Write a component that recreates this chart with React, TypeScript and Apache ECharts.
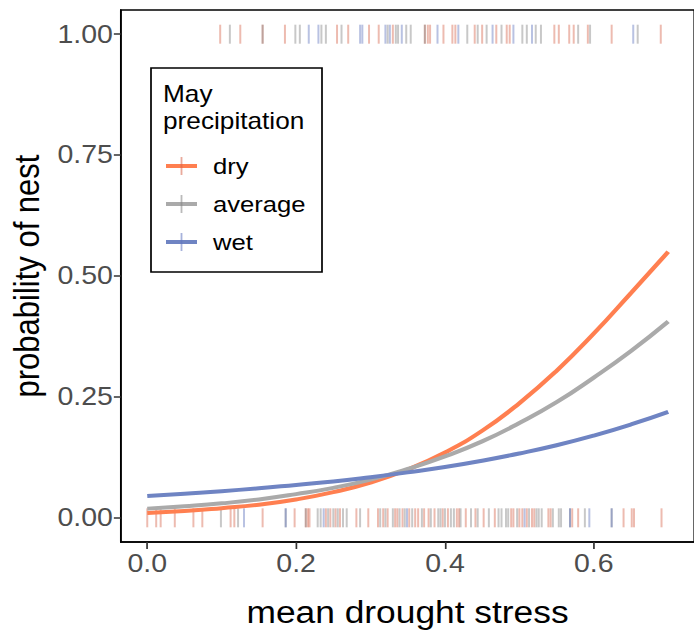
import React, { useEffect, useRef } from "react";
import * as echarts from "echarts";

// curve values
const curveX = [0, 0.05, 0.1, 0.15, 0.2, 0.25, 0.3, 0.35, 0.4, 0.45, 0.5, 0.55, 0.6, 0.65, 0.7];
const dryP = [0.010, 0.014, 0.020, 0.027, 0.038, 0.053, 0.073, 0.100, 0.135, 0.180, 0.237, 0.304, 0.381, 0.465, 0.550];
const avgP = [0.019, 0.024, 0.030, 0.038, 0.049, 0.062, 0.079, 0.101, 0.127, 0.158, 0.196, 0.239, 0.290, 0.345, 0.406];
const wetP = [0.045, 0.050, 0.055, 0.061, 0.068, 0.075, 0.084, 0.094, 0.105, 0.118, 0.133, 0.150, 0.170, 0.193, 0.219];

// observed nests (y = 1) by group
const nestDry = [0.098, 0.125, 0.155, 0.185, 0.255, 0.270, 0.298, 0.311, 0.330, 0.373, 0.377, 0.380, 0.398, 0.410, 0.414, 0.440, 0.450, 0.469, 0.483, 0.487, 0.547, 0.553, 0.567, 0.573, 0.592, 0.624, 0.690];
const nestAvg = [0.111, 0.155, 0.199, 0.205, 0.234, 0.240, 0.261, 0.323, 0.334, 0.337, 0.348, 0.354, 0.373, 0.430, 0.444, 0.456, 0.476, 0.504, 0.510, 0.522, 0.529, 0.579, 0.595, 0.659];
const nestWet = [0.217, 0.230, 0.286, 0.289, 0.320, 0.326, 0.342, 0.390, 0.418, 0.464, 0.492, 0.517, 0.653];

// no nest (y = 0) by group
const noDry = [0.000, 0.012, 0.018, 0.037, 0.062, 0.074, 0.112, 0.117, 0.155, 0.198, 0.213, 0.216, 0.218, 0.240, 0.246, 0.253, 0.259, 0.281, 0.297, 0.310, 0.317, 0.323, 0.333, 0.336, 0.343, 0.352, 0.360, 0.364, 0.372, 0.378, 0.386, 0.397, 0.404, 0.416, 0.419, 0.428, 0.441, 0.452, 0.467, 0.489, 0.492, 0.500, 0.504, 0.510, 0.517, 0.520, 0.539, 0.542, 0.571, 0.579, 0.640, 0.651, 0.654, 0.691];
const noAvg = [0.099, 0.122, 0.186, 0.213, 0.229, 0.233, 0.243, 0.250, 0.256, 0.263, 0.268, 0.286, 0.313, 0.320, 0.330, 0.339, 0.346, 0.356, 0.369, 0.381, 0.391, 0.394, 0.400, 0.408, 0.412, 0.421, 0.435, 0.444, 0.459, 0.472, 0.476, 0.482, 0.485, 0.497, 0.513, 0.523, 0.526, 0.530, 0.545, 0.553, 0.556, 0.568, 0.588, 0.624];
const noWet = [0.130, 0.186, 0.237, 0.349, 0.507, 0.568, 0.594, 0.624];

const groups = ["dry", "average", "wet"];
const legendTitle = "May\nprecipitation";
const xTitle = "mean drought stress";
const yTitle = "probability of nest";
const xTicks = [0, 0.2, 0.4, 0.6];
const yTicks = [0, 0.25, 0.5, 0.75, 1];

const COLORS = ["#FF7F50", "#AAAAAA", "#6F84C3"];
const RUG_COLORS = ["rgba(215,100,75,0.55)", "rgba(130,130,130,0.55)", "rgba(95,115,190,0.55)"];

// the reference is horizontally stretched; the chart is drawn narrow and stretched back
const S = 1.14;
const W = 694;
const H = 633;

export default function App() {
  const ref = useRef<HTMLDivElement>(null);
  useEffect(() => {
    if (!ref.current) return;
    const chart = echarts.init(ref.current, null, { renderer: "svg" });
    const curves = [dryP, avgP, wetP];
    const nests = [nestDry, nestAvg, nestWet];
    const nos = [noDry, noAvg, noWet];
    const font = "'Liberation Sans', Arial, sans-serif";
    const sx = (v: number) => v / S;

    const series: any[] = [];
    groups.forEach((g, i) => {
      series.push({
        type: "scatter",
        name: g + " rug",
        symbol: "rect",
        symbolSize: [1.75, 19],
        itemStyle: { color: RUG_COLORS[i] },
        data: nests[i].map((x) => [x, 1]).concat(nos[i].map((x) => [x, 0])),
        z: 1,
        silent: true,
      });
    });
    groups.forEach((g, i) => {
      series.push({
        type: "line",
        name: g,
        smooth: true,
        showSymbol: false,
        lineStyle: { color: COLORS[i], width: 4 },
        data: curveX.map((x, k) => [x, curves[i][k]]),
        z: 3,
      });
    });

    const graphics: any[] = [
      {
        type: "rect",
        shape: { x: sx(151), y: 68, width: sx(171), height: 204 },
        style: { fill: "#fff", stroke: "#000", lineWidth: 1.5 },
        z: 10,
      },
      {
        type: "text",
        x: sx(163),
        y: 81,
        z: 11,
        style: { text: legendTitle, font: `23px ${font}`, fill: "#000", lineHeight: 27, textAlign: "left", textVerticalAlign: "top" },
      },
    ];
    const itemY = [166, 204, 242];
    groups.forEach((g, i) => {
      graphics.push({
        type: "line",
        z: 11,
        shape: { x1: sx(166), y1: itemY[i], x2: sx(197), y2: itemY[i] },
        style: { stroke: COLORS[i], lineWidth: 4 },
      });
      graphics.push({
        type: "line",
        z: 12,
        shape: { x1: sx(181.5), y1: itemY[i] - 9, x2: sx(181.5), y2: itemY[i] + 9 },
        style: { stroke: RUG_COLORS[i], lineWidth: 1.6 },
      });
      graphics.push({
        type: "text",
        z: 11,
        x: sx(213),
        y: itemY[i],
        style: { text: g, font: `22.5px ${font}`, fill: "#000", textVerticalAlign: "middle", textAlign: "left" },
      });
    });

    chart.setOption({
      animation: false,
      backgroundColor: "#fff",
      grid: {
        left: sx(119),
        top: 10,
        width: sx(586),
        height: 534,
        show: true,
        borderColor: "#000",
        borderWidth: 1.5,
        backgroundColor: "transparent",
        containLabel: false,
      },
      xAxis: {
        type: "value",
        min: -0.0355,
        max: 0.735,
        splitLine: { show: false },
        axisLine: { show: true, onZero: false, lineStyle: { color: "#000", width: 1.5 } },
        axisTick: { show: true, customValues: xTicks, length: 7, lineStyle: { color: "#333", width: 1.5 } },
        axisLabel: {
          customValues: xTicks,
          formatter: (v: number) => v.toFixed(1),
          fontSize: 25,
          fontFamily: font,
          color: "#4D4D4D",
          margin: 9,
        },
        name: xTitle,
        nameLocation: "middle",
        nameGap: 55,
        nameTextStyle: { fontSize: 31, fontFamily: font, color: "#000" },
      },
      yAxis: {
        type: "value",
        min: -0.05,
        max: 1.05,
        splitLine: { show: false },
        axisLine: { show: true, onZero: false, lineStyle: { color: "#000", width: 1.5 } },
        axisTick: { show: true, customValues: yTicks, length: sx(7), lineStyle: { color: "#333", width: 1.5 } },
        axisLabel: {
          customValues: yTicks,
          formatter: (v: number) => v.toFixed(2),
          fontSize: 25,
          fontFamily: font,
          color: "#4D4D4D",
          margin: sx(8),
        },
        name: yTitle,
        nameLocation: "middle",
        nameGap: 67,
        nameRotate: 90,
        nameTextStyle: { fontSize: 31, fontFamily: font, color: "#000" },
      },
      series,
      graphic: graphics,
    });
    return () => chart.dispose();
  }, []);
  return (
    <div style={{ position: "absolute", left: 0, top: 0, width: W, height: H, overflow: "hidden", background: "#fff" }}>
      <div
        ref={ref}
        style={{ width: W / S, height: H, transform: `scaleX(${S})`, transformOrigin: "0 0" }}
      />
    </div>
  );
}
